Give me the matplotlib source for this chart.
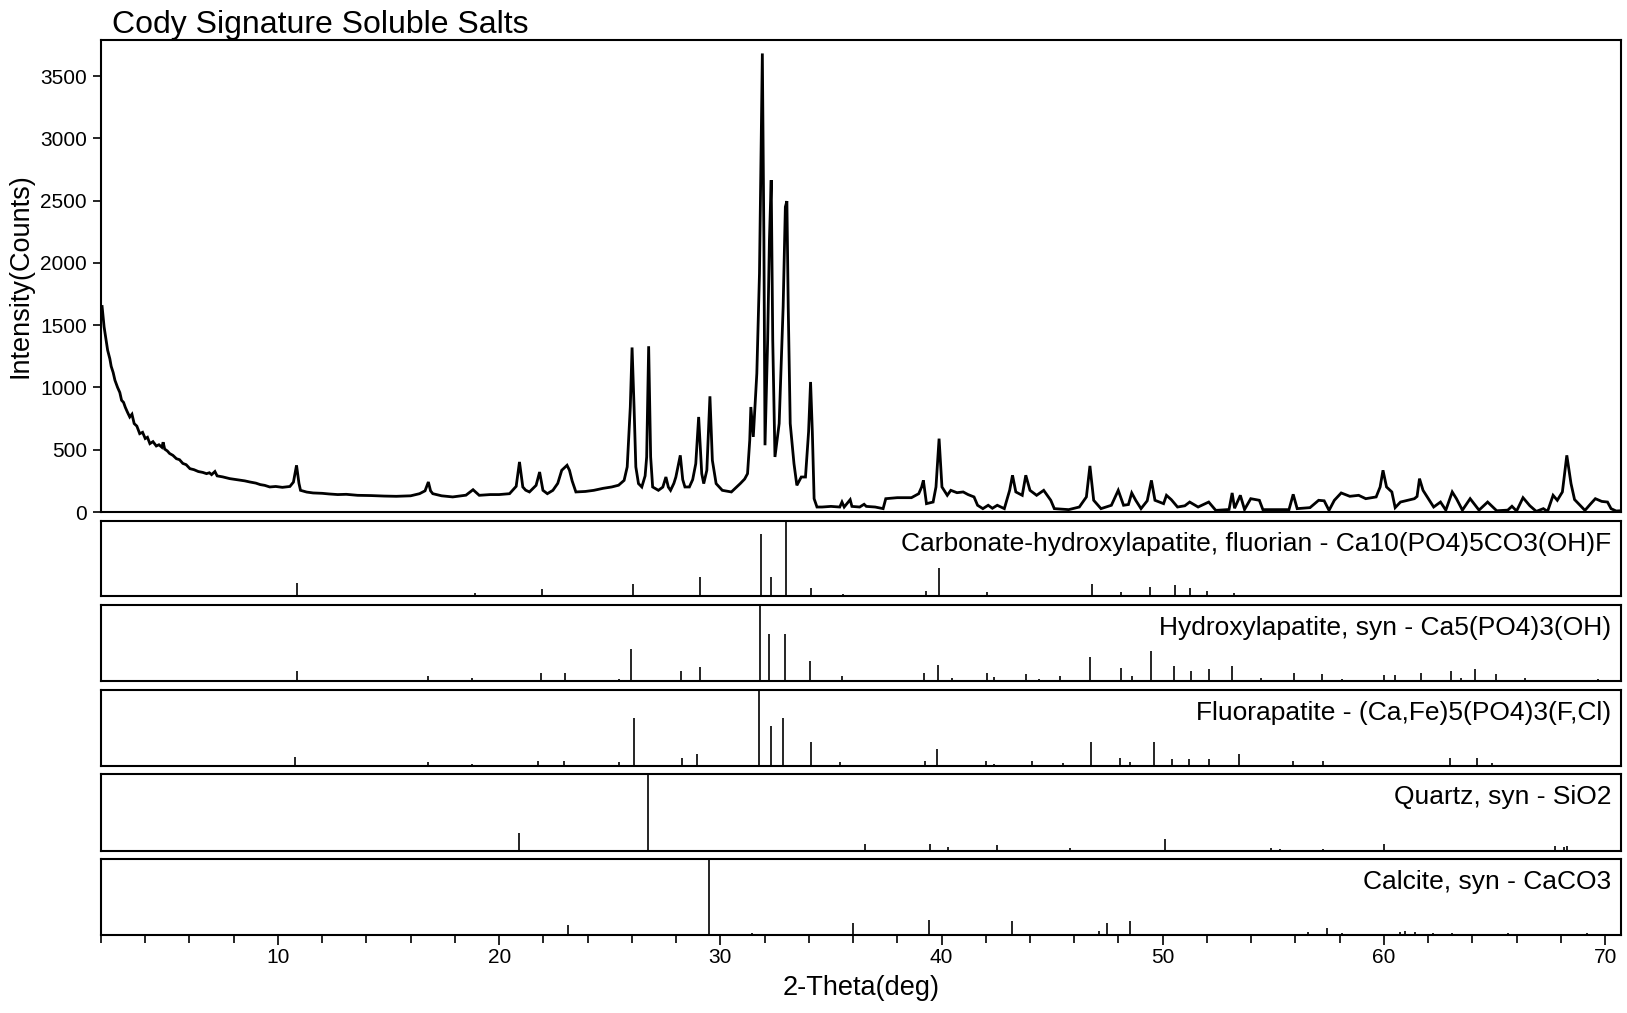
import matplotlib
matplotlib.use("Agg")
import matplotlib.pyplot as plt
from matplotlib.ticker import MultipleLocator

plt.rcParams['font.family'] = ['Liberation Sans', 'DejaVu Sans']

# ---------------- data ----------------
title = "Cody Signature Soluble Salts"
x_label = "2-Theta(deg)"
y_label = "Intensity(Counts)"
y_ticks = [0, 500, 1000, 1500, 2000, 2500, 3000, 3500]
x_ticks = [10, 20, 30, 40, 50, 60, 70]

two_theta = [2.05, 2.14, 2.30, 2.40, 2.46, 2.55, 2.63, 2.75, 2.85, 2.93, 3.02, 3.10, 3.20, 3.30, 3.40, 3.50,
             3.62, 3.75, 3.88, 4.00, 4.10, 4.21, 4.35, 4.50, 4.62, 4.75, 4.81, 4.88, 5.00, 5.10, 5.25, 5.41,
             5.55, 5.70, 5.85, 6.02, 6.20, 6.40, 6.60, 6.77, 6.90, 7.00, 7.15, 7.25, 7.50, 7.82, 8.05, 8.30,
             8.50, 8.73, 9.00, 9.20, 9.40, 9.63, 9.90, 10.20,
             10.54, 10.70, 10.84, 10.95, 11.02, 11.30, 11.59, 12.00, 12.30, 12.70, 13.09, 13.60, 14.20, 14.80,
             15.35, 16.00, 16.40, 16.65,
             16.80, 16.90, 17.00, 17.40, 17.90, 18.50, 18.82, 19.10, 19.60, 20.00, 20.47, 20.77, 20.92, 21.07,
             21.20, 21.37, 21.67, 21.83, 21.98, 22.18, 22.43, 22.65, 22.83, 22.95, 23.07, 23.18, 23.30, 23.47,
             23.90, 24.28, 24.70, 25.09, 25.40, 25.65, 25.79, 25.93, 26.01, 26.10, 26.18, 26.30, 26.45, 26.60,
             26.67, 26.76, 26.85, 26.94, 27.20, 27.40, 27.54, 27.65, 27.75, 27.90, 27.99, 28.19, 28.30, 28.40,
             28.60, 28.75, 28.89, 29.02, 29.16, 29.25, 29.39, 29.53, 29.64, 29.81, 30.09, 30.50, 30.90, 31.10,
             31.23, 31.33, 31.38, 31.49, 31.65, 31.77, 31.85, 31.90, 31.97, 32.02, 32.14, 32.22, 32.30, 32.37,
             32.47, 32.66, 32.84, 32.94, 33.01, 33.07, 33.16, 33.33, 33.46, 33.66, 33.85, 33.99, 34.08, 34.16,
             34.24, 34.37, 34.60, 35.00, 35.40, 35.50, 35.60, 35.87, 35.95, 36.30, 36.50, 36.60, 37.00, 37.36,
             37.48, 38.00, 38.64, 38.97, 39.10, 39.18, 39.32, 39.62, 39.75, 39.89, 40.02, 40.26, 40.42, 40.70,
             40.98, 41.20, 41.47, 41.63, 41.87, 42.11, 42.30, 42.52, 42.84, 43.08, 43.21, 43.36, 43.65, 43.81,
             44.00, 44.30, 44.62, 44.94, 45.10, 45.75, 46.23, 46.55, 46.71, 46.88, 47.21, 47.68, 47.99, 48.23,
             48.45, 48.60, 48.78, 49.02, 49.30, 49.49, 49.65, 50.04, 50.17, 50.39, 50.67, 51.00, 51.22, 51.60,
             52.08, 52.40, 53.00, 53.14, 53.25, 53.51, 53.70, 53.98, 54.37, 54.53, 55.71, 55.90, 56.08, 56.66,
             57.05, 57.30, 57.52, 57.76, 58.07, 58.46, 58.86, 59.18, 59.65, 59.83, 59.96, 60.12, 60.36, 60.51,
             60.75, 61.38, 61.50, 61.61, 61.77, 62.25, 62.56, 62.80, 63.09, 63.28, 63.55, 63.90, 64.30, 64.69,
             65.10, 65.60, 65.79, 66.00, 66.29, 66.60, 66.89, 67.21, 67.40, 67.65, 67.84, 68.07, 68.27, 68.46,
             68.62, 68.80, 69.09, 69.33, 69.56, 69.85, 70.11, 70.27, 70.50, 70.70]
intensity = [1650, 1486, 1299, 1230, 1170, 1120, 1058, 1000, 960, 897, 880, 840, 800, 763, 785, 710,
             690, 629, 640, 590, 600, 549, 565, 530, 540, 520, 560, 505, 490, 470, 455, 428,
             420, 390, 380, 348, 340, 325, 318, 308, 315, 300, 325, 290, 282, 268, 262, 255,
             250, 241, 232, 220, 214, 201, 205, 198,
             205, 240, 375, 230, 174, 160, 153, 150, 145, 140, 142, 134, 132, 128,
             126, 130, 147, 170,
             241, 170, 147, 130, 121, 135, 179, 134, 140, 140, 147, 206, 402, 201,
             175, 161, 214, 321, 174, 147, 174, 230, 335, 355, 375, 335, 250, 161,
             165, 174, 190, 201, 215, 254, 362, 843, 1321, 843, 362, 228, 201, 290,
             442, 1331, 442, 201, 174, 200, 281, 200, 174, 230, 281, 455, 260, 201,
             201, 260, 388, 763, 308, 228, 335, 929, 415, 228, 174, 161, 228, 265,
             308, 576, 843, 603, 1112, 1915, 2986, 3682, 2183, 536, 1379, 2183, 2665, 1379,
             442, 710, 1647, 2450, 2496, 1647, 710, 388, 214, 281, 281, 643, 1044, 643,
             107, 40, 40, 45, 40, 80, 40, 99, 45, 40, 62, 45, 40, 27,
             107, 115, 115, 147, 200, 254, 67, 80, 201, 589, 201, 134, 174, 155,
             161, 140, 121, 54, 27, 54, 30, 54, 27, 174, 295, 161, 134, 295,
             174, 134, 174, 94, 27, 19, 40, 121, 370, 94, 27, 54, 174, 54,
             60, 153, 94, 27, 90, 254, 94, 67, 134, 99, 40, 50, 80, 40,
             80, 13, 20, 153, 30, 134, 20, 107, 94, 19, 19, 142, 27, 35,
             94, 90, 13, 94, 153, 126, 134, 107, 121, 201, 335, 201, 161, 35,
             80, 107, 125, 268, 174, 40, 80, 15, 161, 107, 15, 107, 15, 80,
             10, 15, 46, 8, 115, 50, 5, 27, 5, 134, 94, 161, 455, 228,
             100, 67, 13, 62, 107, 85, 80, 27, 8, 10]

phase_names = ["Carbonate-hydroxylapatite, fluorian - Ca10(PO4)5CO3(OH)F",
               "Hydroxylapatite, syn - Ca5(PO4)3(OH)",
               "Fluorapatite - (Ca,Fe)5(PO4)3(F,Cl)",
               "Quartz, syn - SiO2",
               "Calcite, syn - CaCO3"]

carb_pos = [10.88, 18.91, 21.95, 26.05, 29.08, 31.86, 32.29, 32.95, 34.12, 35.54, 39.29, 39.89, 42.06,
            46.81, 48.13, 49.44, 50.54, 51.23, 52.02, 53.21]
carb_h = [0.18, 0.04, 0.10, 0.157, 0.25, 0.83, 0.25, 1.0, 0.11, 0.03, 0.067, 0.37, 0.058,
          0.16, 0.06, 0.12, 0.15, 0.11, 0.07, 0.035]

hyd_pos = [10.84, 16.80, 18.79, 21.89, 22.99, 25.43, 25.97, 28.20, 29.08, 31.80, 32.21, 32.92, 34.06,
           35.49, 39.21, 39.85, 40.49, 42.06, 42.39, 43.82, 44.42, 45.36, 46.73, 48.10, 48.63, 49.46,
           50.50, 51.28, 52.10, 53.12, 54.44, 55.95, 57.20, 58.12, 60.00, 60.50, 61.70, 63.04, 63.49,
           64.11, 65.06, 66.39, 69.66]
hyd_h = [0.136, 0.06, 0.04, 0.11, 0.106, 0.03, 0.42, 0.13, 0.18, 1.0, 0.62, 0.62, 0.26,
         0.066, 0.10, 0.21, 0.04, 0.106, 0.05, 0.09, 0.03, 0.07, 0.31, 0.17, 0.066, 0.39,
         0.20, 0.13, 0.155, 0.20, 0.044, 0.11, 0.09, 0.03, 0.075, 0.075, 0.11, 0.13, 0.035,
         0.155, 0.09, 0.035, 0.03]

fluor_pos = [10.79, 16.79, 18.79, 21.77, 22.93, 25.43, 26.09, 28.28, 28.94, 31.74, 32.27, 32.83, 34.12,
             35.42, 39.24, 39.79, 42.02, 42.39, 44.08, 45.50, 46.75, 48.09, 48.51, 49.61, 50.42, 51.19,
             52.08, 53.45, 55.90, 57.26, 62.98, 64.22, 64.90]
fluor_h = [0.12, 0.057, 0.026, 0.06, 0.06, 0.058, 0.63, 0.107, 0.155, 1.0, 0.53, 0.63, 0.31,
           0.053, 0.067, 0.23, 0.062, 0.02, 0.062, 0.044, 0.31, 0.107, 0.05, 0.31, 0.098, 0.098,
           0.098, 0.155, 0.07, 0.067, 0.11, 0.10, 0.044]

quartz_pos = [20.90, 26.74, 36.55, 39.47, 40.30, 42.50, 45.80, 50.12, 54.89, 55.30, 57.26, 60.00,
              67.73, 68.14, 68.29]
quartz_h = [0.24, 1.0, 0.088, 0.096, 0.057, 0.08, 0.044, 0.15, 0.04, 0.03, 0.026, 0.097,
            0.06, 0.057, 0.066]

calc_pos = [23.11, 29.48, 31.45, 35.99, 39.44, 43.18, 47.13, 47.50, 48.51, 56.58, 57.41, 58.12,
            60.72, 60.96, 61.41, 62.22, 63.10, 65.60, 69.20]
calc_h = [0.13, 1.0, 0.03, 0.155, 0.2, 0.19, 0.053, 0.164, 0.18, 0.044, 0.09, 0.03,
          0.044, 0.053, 0.04, 0.022, 0.03, 0.022, 0.022]

phase_pos = [carb_pos, hyd_pos, fluor_pos, quartz_pos, calc_pos]
phase_h = [carb_h, hyd_h, fluor_h, quartz_h, calc_h]

# ---------------- layout ----------------
W, H = 1627, 1013
fig = plt.figure(figsize=(W / 100, H / 100), dpi=100)
fig.patch.set_facecolor('white')

def rect(left, right, top, bottom):
    return [left / W, 1 - bottom / H, (right - left) / W, (bottom - top) / H]

XL, XR = 101, 1621
xlim = (2.0, 70.72)

ax = fig.add_axes(rect(XL, XR, 40, 512))
ax.plot(two_theta, intensity, color='black', lw=2.0, solid_joinstyle='miter')
ax.set_xlim(*xlim)
ax.set_ylim(0, 3790)
ax.set_yticks(y_ticks)
ax.set_yticklabels([str(v) for v in y_ticks])
ax.tick_params(axis='y', direction='out', length=6, width=1.2, pad=4, labelsize=15)
ax.tick_params(axis='x', bottom=False, labelbottom=False)
ax.set_ylabel(y_label, fontsize=19.5)
ax.yaxis.set_label_coords(-0.0447, 0.5)
for s in ax.spines.values():
    s.set_linewidth(1.5)

panels_px = [(521, 596), (605, 681), (690, 766), (774, 851), (859, 935)]
for i, (top, bot) in enumerate(panels_px):
    pax = fig.add_axes(rect(XL, XR, top, bot))
    pax.vlines(phase_pos[i], 0, phase_h[i], color='black', lw=1.2)
    pax.set_xlim(*xlim)
    pax.set_ylim(0, 1)
    pax.set_yticks([])
    for s in pax.spines.values():
        s.set_linewidth(1.5)
    pax.annotate(phase_names[i], xy=(1, 1), xycoords='axes fraction',
                 xytext=(-7.0, -21.6), textcoords='offset points',
                 ha='right', va='baseline', fontsize=19)
    if i == len(panels_px) - 1:
        pax.set_xticks(x_ticks)
        pax.set_xticklabels([str(v) for v in x_ticks])
        pax.xaxis.set_minor_locator(MultipleLocator(2))
        pax.tick_params(axis='x', which='major', direction='out', length=7, width=1.2,
                        pad=2, labelsize=15)
        pax.tick_params(axis='x', which='minor', direction='out', length=6, width=1.2)
        pax.set_xlabel(x_label, fontsize=19.5, labelpad=6)
    else:
        pax.set_xticks([])

fig.text(112 / W, 1 - 33.3 / H, title, fontsize=23, ha='left', va='baseline')

fig.savefig("out.png", dpi=100, facecolor='white')
